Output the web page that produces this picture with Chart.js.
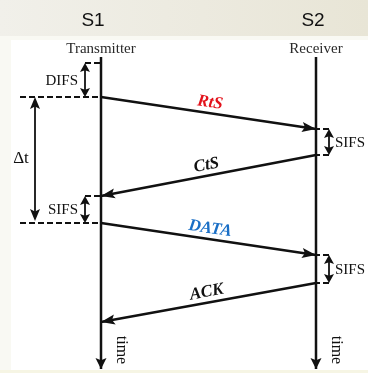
<!DOCTYPE html>
<html>
<head>
<meta charset="utf-8">
<script src="https://cdn.jsdelivr.net/npm/chart.js@4.4.0/dist/chart.umd.min.js"></script>
<style>
  body { margin: 0; background: #fff; }
  #wrap { width: 368px; height: 373px; }
</style>
</head>
<body>
<div id="wrap"><canvas id="chart" width="368" height="373"></canvas></div>
<script>
// stations and message timeline (time units, top = 0 at start of DIFS)
const stations = ['S1', 'S2'];
const roles = ['Transmitter', 'Receiver'];
const frames = ['RtS', 'CtS', 'DATA', 'ACK'];
const frameFrom = [0, 1, 0, 1];
const frameStart = [34, 92, 160, 220];
const frameEnd = [66, 133, 192, 259];
const gaps = ['DIFS', 'SIFS', 'SIFS', 'SIFS'];
const gapAt = [0, 1, 0, 1];
const gapStart = [0, 66, 133, 192];
const gapEnd = [34, 92, 160, 220];
const delta = [34, 160];
const timeSpan = [-6, 306];

const frameColors = ['#e3121b', '#111111', '#1a6fc6', '#111111'];
const ink = '#111111';
const PX = 215; // pixels between the two lifelines

var datasets = [];

// lifelines
stations.forEach(function(s, i) {
    datasets.push({
        data: [{x: i, y: timeSpan[0]}, {x: i, y: timeSpan[1]}],
        borderColor: ink, borderWidth: 2.5, arrow: true, head: [11, 5.5]
    });
});

// frames
frames.forEach(function(f, k) {
    datasets.push({
        data: [{x: frameFrom[k], y: frameStart[k]}, {x: 1 - frameFrom[k], y: frameEnd[k]}],
        borderColor: ink, borderWidth: 2.5, arrow: true, head: [14, 5], label: f, labelColor: frameColors[k]
    });
});

// dashed boundaries of the inter frame spaces
gaps.forEach(function(g, k) {
    [gapStart[k], gapEnd[k]].forEach(function(t) {
        var x0;
        if (gapAt[k] === 0) {
            x0 = delta.indexOf(t) >= 0 ? -81 / PX : -16 / PX;
        } else {
            x0 = 1 + 13 / PX;
        }
        datasets.push({
            data: [{x: x0, y: t}, {x: gapAt[k], y: t}],
            borderColor: ink, borderWidth: 1.8, borderDash: [6, 3]
        });
    });
});

function head(ctx, x, y, ang, len, w) {
    ctx.save();
    ctx.translate(x, y);
    ctx.rotate(ang);
    ctx.beginPath();
    ctx.moveTo(0, 0);
    ctx.lineTo(-len, -w);
    ctx.lineTo(-len * 0.8, 0);
    ctx.lineTo(-len, w);
    ctx.closePath();
    ctx.fill();
    ctx.restore();
}

function doubleArrow(ctx, x, y1, y2, len, w) {
    ctx.beginPath();
    ctx.moveTo(x, y1 + len * 0.7);
    ctx.lineTo(x, y2 - len * 0.7);
    ctx.lineWidth = 1.8;
    ctx.stroke();
    head(ctx, x, y1, -Math.PI / 2, len, w);
    head(ctx, x, y2, Math.PI / 2, len, w);
}

var backdrop = {
    id: 'backdrop',
    beforeDraw: function(chart) {
        var ctx = chart.ctx;
        ctx.save();
        ctx.fillStyle = '#f9f9f3';
        ctx.fillRect(0, 0, chart.width, chart.height);
        var g = ctx.createLinearGradient(0, 0, chart.width, 0);
        g.addColorStop(0, '#f1f0ea');
        g.addColorStop(1, '#e8e5d6');
        ctx.fillStyle = g;
        ctx.fillRect(0, 0, chart.width, 36);
        ctx.fillStyle = '#ffffff';
        ctx.fillRect(11, 40, chart.width - 11, 330);
        ctx.fillStyle = '#f6f5e4';
        ctx.fillRect(0, 370, chart.width, 3);
        ctx.restore();
    }
};

var marks = {
    id: 'marks',
    afterDatasetsDraw: function(chart) {
        var ctx = chart.ctx;
        var xs = chart.scales.x, ys = chart.scales.y;
        ctx.save();
        ctx.fillStyle = ink;
        ctx.strokeStyle = ink;

        // arrow heads and frame labels
        chart.data.datasets.forEach(function(ds, i) {
            if (!ds.arrow) return;
            var pts = chart.getDatasetMeta(i).data;
            var a = pts[0], b = pts[pts.length - 1];
            var ang = Math.atan2(b.y - a.y, b.x - a.x);
            ctx.fillStyle = ink;
            head(ctx, b.x, b.y, ang, ds.head[0], ds.head[1]);
            if (ds.label) {
                var mx = (a.x + b.x) / 2, my = (a.y + b.y) / 2;
                var ta = b.x < a.x ? Math.atan2(a.y - b.y, a.x - b.x) : ang;
                ctx.save();
                ctx.translate(mx, my);
                ctx.rotate(ta);
                ctx.font = 'italic bold 17px "Liberation Serif"';
                ctx.fillStyle = ds.labelColor;
                ctx.textAlign = 'center';
                ctx.textBaseline = 'alphabetic';
                ctx.fillText(ds.label, 0, -6);
                ctx.restore();
            }
        });

        // inter frame spaces
        ctx.fillStyle = ink;
        ctx.font = '15px "Liberation Serif"';
        ctx.textBaseline = 'middle';
        gaps.forEach(function(g, k) {
            var sx = xs.getPixelForValue(gapAt[k]);
            var ax = gapAt[k] === 0 ? sx - 16 : sx + 13;
            var y1 = ys.getPixelForValue(gapStart[k]), y2 = ys.getPixelForValue(gapEnd[k]);
            doubleArrow(ctx, ax, y1, y2, 9, 5);
            ctx.textAlign = gapAt[k] === 0 ? 'right' : 'left';
            ctx.fillText(g, gapAt[k] === 0 ? ax - 7 : ax + 6, (y1 + y2) / 2 + 1);
        });

        // delta t
        var dx = xs.getPixelForValue(0) - 66;
        var d1 = ys.getPixelForValue(delta[0]), d2 = ys.getPixelForValue(delta[1]);
        doubleArrow(ctx, dx, d1, d2 - 2, 12, 5);
        ctx.font = '17px "Liberation Serif"';
        ctx.textAlign = 'center';
        ctx.fillText('\u0394t', dx - 14, (d1 + d2) / 2 - 1);

        // roles, stations and time labels
        stations.forEach(function(s, i) {
            var sx = xs.getPixelForValue(i);
            ctx.textBaseline = 'alphabetic';
            ctx.textAlign = 'center';
            ctx.fillStyle = '#2a2a2a';
            ctx.font = '15px "Liberation Serif"';
            ctx.fillText(roles[i], sx, 53);
            ctx.fillStyle = '#111';
            ctx.font = '19px "Liberation Sans"';
            ctx.fillText(s, sx + (i === 0 ? -8 : -3), 26);
            ctx.save();
            ctx.translate(sx + 20, 350);
            ctx.rotate(Math.PI / 2);
            ctx.font = '16px "Liberation Serif"';
            ctx.textBaseline = 'middle';
            ctx.fillText('time', 0, 0);
            ctx.restore();
        });
        ctx.restore();
    }
};

new Chart(document.getElementById('chart'), {
    type: 'line',
    data: { datasets: datasets },
    options: {
        responsive: false,
        animation: false,
        layout: { padding: 0 },
        elements: { point: { radius: 0, hoverRadius: 0 }, line: { tension: 0, borderCapStyle: 'butt' } },
        plugins: { legend: { display: false }, tooltip: { enabled: false } },
        scales: {
            x: { type: 'linear', display: false, min: -101 / PX, max: 267 / PX },
            y: { type: 'linear', display: false, reverse: true, min: -63, max: 310 }
        }
    },
    plugins: [backdrop, marks]
});
</script>
</body>
</html>
